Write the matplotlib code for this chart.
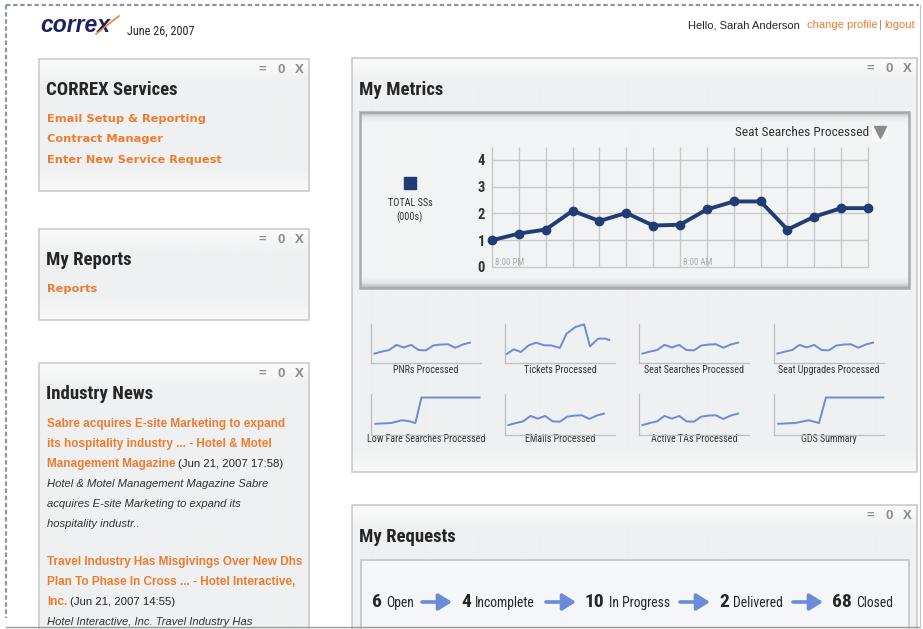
import matplotlib
matplotlib.use('Agg')
import matplotlib.pyplot as plt
from matplotlib.patches import Rectangle
from matplotlib.colors import to_rgb
from matplotlib import font_manager
import numpy as np

# ---------------- data ----------------
main_values = [1.0, 1.25, 1.4, 2.1, 1.72, 2.02, 1.55, 1.58, 2.15, 2.45, 2.45, 1.4, 1.88, 2.2, 2.2]
main_yticks = [0, 1, 2, 3, 4]
main_time_labels = ['8:00 PM', '8:00 AM']
main_time_label_idx = [0, 7]
main_metric = 'Seat Searches Processed'
legend_lines = ['TOTAL SSs', '(000s)']

spark_titles = ['PNRs Processed', 'Tickets Processed', 'Seat Searches Processed',
                'Seat Upgrades Processed', 'Low Fare Searches Processed', 'EMails Processed',
                'Active TAs Processed', 'GDS Summary']
spark_common = [1.0, 1.3, 1.55, 2.35, 1.95, 2.35, 1.55, 1.5, 2.25, 2.4, 2.45, 1.9, 2.4, 2.7]
tickets_hours = [-0.33, 0.75, 1.7, 2.74, 3.77, 4.86, 5.8, 7.0, 7.9, 9.1, 10.3, 11.1, 12.2, 13.2, 13.7]
tickets_values = [0.88, 1.66, 1.24, 2.28, 2.69, 2.28, 2.28, 1.87, 4.09, 5.13, 5.54, 2.12, 3.32, 3.32, 3.11]
lowfare_hours = [0.14, 2.26, 3.68, 4.6, 5.57, 6.4, 14.3]
lowfare_values = [1.19, 1.3, 1.71, 1.6, 1.3, 5.08, 5.08]
gds_hours = [0.09, 2.36, 4.25, 5.66, 6.6, 14.4]
gds_values = [1.19, 1.3, 1.71, 1.3, 5.08, 5.08]

request_counts = [6, 4, 10, 2, 68]
request_states = ['Open', 'Incomplete', 'In Progress', 'Delivered', 'Closed']

service_links = ['Email Setup & Reporting', 'Contract Manager', 'Enter New Service Request']
report_links = ['Reports']
news_items = [
    (['Sabre acquires E-site Marketing to expand',
      'its hospitality industry ... - Hotel & Motel',
      'Management Magazine'], '(Jun 21, 2007 17:58)',
     ['Hotel & Motel Management Magazine Sabre',
      'acquires E-site Marketing to expand its',
      'hospitality industr..']),
    (['Travel Industry Has Misgivings Over New Dhs',
      'Plan To Phase In Cross ... - Hotel Interactive,',
      'Inc.'], '(Jun 21, 2007 14:55)',
     ['Hotel Interactive, Inc. Travel Industry Has']),
]

# ---------------- styling ----------------
W, H, DPI = 923, 629, 100
ORANGE = '#ef7b2f'
NAVY = '#213b74'
SPARK = '#6b8bd8'
DARK = '#262626'

avail = {f.name for f in font_manager.fontManager.ttflist}
def pick(*names):
    for n in names:
        if n in avail:
            return n
    return 'DejaVu Sans'
COND = pick('Liberation Sans Narrow', 'Roboto Condensed', 'Roboto')
ARIAL = pick('Liberation Sans', 'Arimo', 'DejaVu Sans')
VERD = 'DejaVu Sans'

fig = plt.figure(figsize=(W / DPI, H / DPI), dpi=DPI)
fig.patch.set_facecolor('white')
bg = fig.add_axes([0, 0, 1, 1])
bg.set_xlim(0, W); bg.set_ylim(H, 0); bg.axis('off')
renderer = fig.canvas.get_renderer()

def tw(t):
    return t.get_window_extent(renderer).width

def axes_px(x0, y0, x1, y1):
    return fig.add_axes([x0 / W, 1 - y1 / H, (x1 - x0) / W, (y1 - y0) / H])

def grad_rows(h, stops):
    pos = [(p if p >= 0 else h + p) for p, _ in stops]
    cols = np.array([to_rgb(c) for _, c in stops])
    t = np.arange(h) + 0.5
    img = np.stack([np.interp(t, pos, cols[:, k]) for k in range(3)], axis=-1)
    return img[:, None, :]

def panel(x0, y0, x1, y1):
    h = int(y1 - y0)
    img = grad_rows(h, [(0, '#fbfbfb'), (24, '#eff0f1'), (-24, '#eff0f1'), (-1, '#f9f9f9')])
    bg.imshow(img, extent=(x0, x1, y1, y0), aspect='auto', zorder=1, interpolation='bilinear')
    bg.add_patch(Rectangle((x0, y0), x1 - x0, y1 - y0, fill=False, ec='#c6c6c6', lw=1.1, zorder=2))
    for dx, s in [(-47, '='), (-28, '0'), (-10, 'X')]:
        bg.text(x1 + dx, y0 + 11, s, ha='center', va='center', fontsize=9.5,
                fontweight='bold', color='#8c8c8c', family=ARIAL, zorder=3)

def title(x, y, s):
    bg.text(x, y, s, ha='left', va='center', fontsize=13.5, fontweight='bold',
            color=DARK, family=COND, zorder=3)

# ---------------- outer frame ----------------
bg.plot([6, 6], [5, 618], color='#8e9799', lw=1.6, ls=(0, (2.0, 1.2)), zorder=5)
bg.plot([6, 919], [5, 5], color='#8e9799', lw=1.6, ls=(0, (2.0, 1.2)), zorder=5)
bg.plot([6, 920], [626.5, 626.5], color='#9a9a9a', lw=1.0, zorder=5)
bg.plot([920, 920], [5, 627], color='#c4c4c4', lw=0.8, zorder=5)

# ---------------- header ----------------
logo = bg.text(40, 26, 'correx', ha='left', va='center', fontsize=16.5, fontweight='bold',
               style='italic', color='#1d2163', family=ARIAL, zorder=3)
lw_ = tw(logo)
bg.plot([40 + lw_ - 14, 40 + lw_ - 4, 40 + lw_ + 9], [34, 26, 16], color=ORANGE, lw=1.1, zorder=4)
bg.text(127, 31, 'June 26, 2007', ha='left', va='center', fontsize=8.8, color=DARK,
        family=COND, zorder=3)
hx = 688
for s, col, gap in [('Hello, Sarah Anderson', DARK, 7), ('change profile', ORANGE, 2),
                    ('|', '#888888', 2), ('logout', ORANGE, 0)]:
    tt = bg.text(hx, 25, s, ha='left', va='center', fontsize=8, color=col, family=ARIAL)
    hx += tw(tt) + gap

# ---------------- left panels ----------------
panel(39, 59, 309, 191)
title(46, 90, 'CORREX Services')
for i, s in enumerate(service_links):
    bg.text(47, 119 + i * 20.5, s, ha='left', va='center', fontsize=8.2, fontweight='bold',
            color=ORANGE, family=VERD, zorder=3)

panel(39, 229, 309, 320)
title(46, 260, 'My Reports')
for i, s in enumerate(report_links):
    bg.text(47, 289 + i * 20.5, s, ha='left', va='center', fontsize=8.2, fontweight='bold',
            color=ORANGE, family=VERD, zorder=3)

panel(39, 363, 309, 660)
title(46, 394, 'Industry News')
y = 424
for heads, date, body in news_items:
    last = None
    for s in heads:
        last = bg.text(47, y, s, ha='left', va='center', fontsize=8.5, fontweight='bold',
                       color=ORANGE, family=ARIAL, zorder=3)
        y += 20
    y -= 20
    bg.text(47 + tw(last) + 3, y, date, ha='left', va='center', fontsize=8.2,
            color=DARK, family=ARIAL, zorder=3)
    y += 20
    for s in body:
        bg.text(47, y, s, ha='left', va='center', fontsize=8.1, style='italic',
                color='#333333', family=ARIAL, zorder=3, clip_on=True)
        y += 20
    y += 18

# ---------------- metrics panel ----------------
panel(352, 58, 917, 472)
title(359, 90, 'My Metrics')
ix0, iy0, ix1, iy1 = 360, 112, 909, 288
img = grad_rows(iy1 - iy0, [(0, '#aeaeae'), (5, '#e6e7e8'), (10, '#f2f3f4'),
                            (-10, '#f2f3f4'), (-5, '#e4e5e6'), (-1, '#b8b8b8')])
bg.imshow(img, extent=(ix0, ix1, iy1, iy0), aspect='auto', zorder=2, interpolation='bilinear')
bg.add_patch(Rectangle((ix0, iy0), ix1 - ix0, iy1 - iy0, fill=False, ec='#aaaaaa', lw=1.8, zorder=3))

bg.add_patch(Rectangle((872, 126), 16, 16, fc='#fafafa', ec='none', zorder=3))
bg.text(869, 133, main_metric, ha='right', va='center', fontsize=9.6, color='#333333',
        family=COND, zorder=4)
bg.plot([880], [132], marker='v', ms=8, color='#8a8a8a', zorder=4)

bg.plot([410], [183], marker='s', ms=8.5, color=NAVY, zorder=4)
for i, s in enumerate(legend_lines):
    bg.text(410, 203 + i * 14, s, ha='center', va='center', fontsize=7.3, color='#333333',
            family=COND, zorder=4)

ax = axes_px(492, 147, 868, 267)
ax.patch.set_alpha(0)
n = len(main_values)
ymax = 120 / 26.75
ax.set_xlim(0, n - 1); ax.set_ylim(0, ymax)
ax.vlines(range(n), 0, ymax, color='#c9c9c9', lw=1.0, clip_on=False, zorder=1)
ax.hlines(main_yticks, 0, n - 1, color='#c9c9c9', lw=1.0, clip_on=False, zorder=1)
ax.plot(range(n), main_values, color=NAVY, lw=2.8, marker='o', ms=6, clip_on=False, zorder=5)
for s in ax.spines.values():
    s.set_visible(False)
ax.set_xticks([])
ax.set_yticks(main_yticks)
ax.set_yticklabels([str(v) for v in main_yticks], fontsize=10.5, color='#333333', family=COND,
                   fontweight='bold')
ax.tick_params(axis='y', length=0, pad=5)
for idx, lab in zip(main_time_label_idx, main_time_labels):
    ax.text(idx + 0.12, 0.18, lab, ha='left', va='center', fontsize=6.5, color='#a8a8a8',
            family=COND, zorder=3)

lefts = [371, 505, 639, 774]
rows = [(324, 363, 370), (394, 435, 439)]
for k, name in enumerate(spark_titles):
    r, c = divmod(k, 4)
    top, bot, ly = rows[r]
    sx = axes_px(lefts[c], top, lefts[c] + 110, bot)
    sx.patch.set_alpha(0)
    if name.startswith('Tickets'):
        xs, ys = tickets_hours, tickets_values
    elif name.startswith('Low Fare'):
        xs, ys = lowfare_hours, lowfare_values
    elif name.startswith('GDS'):
        xs, ys = gds_hours, gds_values
    else:
        xs, ys = list(range(len(spark_common))), spark_common
    sx.plot(xs, ys, color=SPARK, lw=1.4, solid_joinstyle='round', clip_on=False)
    sx.set_xlim(-0.47, 14.5); sx.set_ylim(-0.47, 5.6)
    for side in ['top', 'right']:
        sx.spines[side].set_visible(False)
    for side in ['left', 'bottom']:
        sx.spines[side].set_color('#bdbdbd'); sx.spines[side].set_linewidth(0.9)
    sx.set_xticks([]); sx.set_yticks([])
    bg.text(lefts[c] + 55, ly, name, ha='center', va='center', fontsize=7.2, color='#333333',
            family=COND, zorder=4)

# ---------------- requests panel ----------------
panel(352, 505, 917, 660)
title(359, 537, 'My Requests')
bg.add_patch(Rectangle((361, 560), 909 - 361, 100, fc='#f5f6f7', ec='#c4c4c4', lw=1.2, zorder=2))
num_x = [372, 461, 585, 719, 832]
ry = 602
for i, (cnt, st) in enumerate(zip(request_counts, request_states)):
    tn = bg.text(num_x[i], ry, str(cnt), ha='left', va='center', fontsize=14, fontweight='bold',
                 color=DARK, family=COND, zorder=4)
    bg.text(num_x[i] + tw(tn) + 4, ry + 1, st, ha='left', va='center', fontsize=9.8,
            color=DARK, family=COND, zorder=4)
    if i < len(request_counts) - 1:
        x1 = num_x[i + 1] - 9
        bg.annotate('', xy=(x1, ry), xytext=(x1 - 30, ry),
                    arrowprops=dict(arrowstyle='-|>,head_length=0.8,head_width=0.5', lw=2.6,
                                    color=SPARK, shrinkA=0, shrinkB=0), zorder=4)

bg.set_xlim(0, W); bg.set_ylim(H, 0)
fig.savefig('out.png', dpi=DPI)
